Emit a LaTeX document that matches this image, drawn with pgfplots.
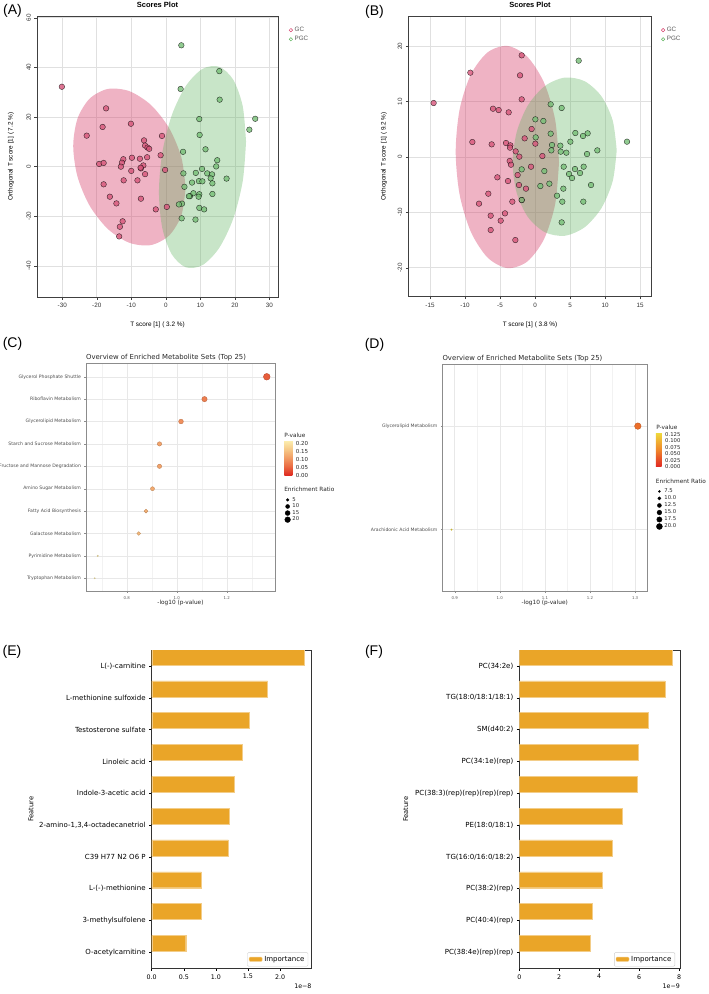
\documentclass[border=0pt]{standalone}
\usepackage{fontspec}
\setmainfont{Liberation Sans}
\newfontfamily\dejavu{DejaVu Sans}
\usepackage{pgfplots}
\pgfplotsset{compat=1.18}
\pgfplotsset{/pgf/number format/assume math mode=true}
\newcommand{\fs}[1]{\fontsize{#1}{#1}\selectfont}
\definecolor{gcred}{RGB}{214,64,108}
\definecolor{gcpt}{RGB}{215,85,122}
\definecolor{pgcgreen}{RGB}{96,180,96}
\definecolor{pgcpt}{RGB}{118,190,118}
\definecolor{barc}{RGB}{234,165,40}
\pgfplotsset{
  every axis title shift=0pt,
  rplot/.style={scale only axis, anchor=north west,
    xtick pos=bottom, ytick pos=left, tick align=outside, major tick length=2.5pt,
    every tick/.style={black!75, line width=0.4pt},
    axis line style={black!75, line width=0.6pt},
    grid=major, major grid style={black!12, line width=0.5pt},
    ticklabel style={font=\fs{6.3}, text=black!80},
    yticklabel style={rotate=90, anchor=south},
    title style={font=\fs{7.5}\bfseries, at={(0.5,1)}, anchor=base, yshift=8.7pt, inner sep=0pt},
    xlabel style={font=\fs{6.4}, anchor=center},
    ylabel style={font=\fs{6.4}, anchor=center},
    legend style={draw=none, fill=none, font=\fs{6.3}, text=black!65, row sep=-0.8pt, inner sep=1pt, anchor=north west},
    legend cell align=left,
    legend image code/.code={\draw[mark repeat=2,mark phase=2,#1] plot coordinates {(0pt,0pt)(2pt,0pt)(4pt,0pt)};},
    clip mode=individual},
  gcpts/.style={only marks, mark=*, mark size=2.8pt, forget plot, mark options={fill=gcpt, fill opacity=0.8, draw=black, draw opacity=0.75, line width=0.4pt}},
  pgcpts/.style={only marks, mark=*, mark size=2.8pt, forget plot, mark options={fill=pgcpt, fill opacity=0.8, draw=black, draw opacity=0.75, line width=0.4pt}},
  gcell/.style={draw=none, fill=gcred, fill opacity=0.4, smooth, forget plot, mark=none},
  pgcell/.style={draw=none, fill=pgcgreen, fill opacity=0.35, smooth, forget plot, mark=none},
  ggplot/.style={scale only axis, anchor=north west,
    xmajorgrids, ymajorgrids, xminorgrids,
    major grid style={black!9, line width=0.4pt}, minor grid style={black!5, line width=0.3pt},
    axis line style={black!45, line width=0.6pt},
    xtick pos=bottom, ytick pos=left, tick align=outside, major tick length=1.5pt, minor tick length=0pt,
    every tick/.style={black!45, line width=0.3pt},
    xticklabel style={font=\dejavu\fs{3.9}, text=black!65, /pgf/number format/fixed, /pgf/number format/fixed zerofill, /pgf/number format/precision=1},
    yticklabel style={font=\dejavu\fs{4.6}, text=black!70},
    title style={font=\dejavu\fs{6.9}, text=black!85, at={(0,1)}, anchor=base west, yshift=3.5pt, inner sep=0pt},
    xlabel style={font=\dejavu\fs{5.8}, text=black!85, anchor=center},
    legend style={draw=none, fill=none, font=\dejavu\fs{5.3}, text=black!85, row sep=-2pt, inner sep=0.5pt, anchor=north west},
    legend cell align=left,
    legend image code/.code={\draw[mark repeat=2,mark phase=2,#1] plot coordinates {(0pt,0pt)(3pt,0pt)(6pt,0pt)};},
    clip mode=individual},
  mplbar/.style={scale only axis, anchor=north west, xbar, bar width=0.5, ymin=-0.5, ymax=9.5, xmin=0,
    ytick={0,...,9},
    xtick pos=bottom, ytick pos=left, tick align=outside, major tick length=2.5pt,
    every tick/.style={black, line width=0.5pt},
    axis line style={black!80, line width=0.6pt},
    xticklabel style={font=\dejavu\fs{6.3}},
    yticklabel style={font=\dejavu\fs{7}},
    ylabel style={font=\dejavu\fs{6.7}, anchor=center},
    legend style={anchor=south east, draw=black!20, fill=white, font=\dejavu\fs{7}, rounded corners=1pt, inner sep=1.5pt},
    clip mode=individual}
}
\begin{document}
\begin{tikzpicture}
\useasboundingbox (0,0) rectangle (709pt,-994pt);
\node[font=\fs{14}] at (12.5pt,-10.5pt) {(A)};
\node[font=\fs{14}] at (374.5pt,-11.5pt) {(B)};
\node[font=\fs{14}] at (12.5pt,-344pt) {(C)};
\node[font=\fs{14}] at (374.5pt,-345pt) {(D)};
\node[font=\fs{14}] at (12pt,-652pt) {(E)};
\node[font=\fs{14}] at (374pt,-651.5pt) {(F)};

% ---------------- (A) ----------------
\begin{axis}[rplot, at={(37pt,-16pt)}, width=241pt, height=281pt,
  xmin=-37.3, xmax=32.5, ymin=-52.5, ymax=60.7,
  xtick={-30,-20,-10,0,10,20,30}, ytick={-40,-20,0,20,40,60},
  title={Scores Plot},
  xlabel={T score [1] ( 3.2 \%)}, xlabel style={at={(0.5,-0.0996)}},
  ylabel={Orthogonal T score [1] ( 7.2 \%)}, ylabel style={at={(-0.108,0.5)}},
  legend style={at={(1.0415,0.9715)}}]
\addplot[gcell] coordinates {(5.75,-8.57) (4.51,-19.62) (0.98,-27.69) (-4.30,-31.58) (-10.53,-30.67) (-16.76,-25.12) (-22.04,-15.75) (-25.57,-4.02) (-26.81,8.31) (-25.57,19.36) (-22.04,27.43) (-16.76,31.32) (-10.53,30.41) (-4.30,24.86) (0.98,15.49) (4.51,3.76) (5.75,-8.57)};
\addplot[pgcell] coordinates {(23.24,10.03) (22.28,-5.86) (19.55,-20.89) (15.46,-32.75) (10.63,-39.65) (5.80,-40.53) (1.71,-35.25) (-1.02,-24.64) (-1.98,-10.29) (-1.02,5.60) (1.71,20.63) (5.80,32.49) (10.63,39.39) (15.46,40.27) (19.55,34.99) (22.28,24.38) (23.24,10.03)};
\addplot[gcpts] coordinates {(-30.1,32.2) (-17.3,23.5) (-22.9,12.5) (-18.3,16.0) (-10.1,17.3) (-1.1,12.4) (-6.3,10.6) (-6.0,8.5) (-5.3,7.7) (-4.8,7.2) (-19.3,1.1) (-18.0,1.5) (-12.3,3.0) (-12.7,1.6) (-13.0,0.0) (-9.8,3.6) (-7.5,3.2) (-5.4,3.8) (-1.5,4.6) (-6.5,0.5) (-7.2,-0.7) (-7.3,-0.4) (-10.0,-1.7) (-6.0,-3.0) (-0.2,-1.3) (-12.2,-5.5) (-8.2,-5.5) (-18.0,-7.1) (-16.2,-12.1) (-14.3,-14.8) (-7.2,-12.9) (-2.9,-17.2) (0.3,-16.2) (-12.5,-22.0) (-13.3,-24.2) (-13.5,-28.1)};
\addplot[pgcpts] coordinates {(4.5,48.9) (15.5,38.5) (4.3,31.3) (15.6,27.0) (25.9,19.3) (24.2,14.9) (9.7,19.2) (9.8,12.8) (11.5,7.0) (5.0,6.0) (14.9,2.6) (14.6,0.1) (10.5,-0.9) (5.1,-2.7) (8.7,-2.5) (12.0,-2.7) (13.4,-3.1) (13.0,-4.7) (17.6,-4.8) (9.6,-5.8) (10.6,-5.9) (13.5,-6.7) (7.6,-6.4) (5.4,-8.1) (8.0,-10.7) (9.7,-11.1) (13.5,-11.0) (7.0,-11.9) (6.7,-11.9) (9.5,-12.1) (4.7,-14.9) (3.8,-15.2) (9.7,-16.6) (11.1,-17.2) (4.6,-20.8) (8.6,-21.3)};
\addlegendimage{only marks, mark=o, mark size=1.7pt, gcred, line width=0.5pt}
\addlegendentry{GC}
\addlegendimage{only marks, mark=o, mark size=1.7pt, pgcgreen, line width=0.5pt}
\addlegendentry{PGC}
\end{axis}

% ---------------- (B) ----------------
\begin{axis}[rplot, at={(408.3pt,-16pt)}, width=243.4pt, height=280.7pt,
  xmin=-18.1, xmax=16.67, ymin=-25.24, ymax=25.48,
  xtick={-15,-10,-5,0,5,10,15}, ytick={-20,-10,0,10,20},
  title={Scores Plot},
  xlabel={T score [1] ( 3.8 \%)}, xlabel style={at={(0.5,-0.101)}},
  ylabel={Orthogonal T score [1] ( 9.2 \%)}, ylabel style={at={(-0.0998,0.5)}},
  legend style={at={(1.035,0.9715)}}]
\addplot[gcell] coordinates {(3.43,-0.97) (2.87,-8.58) (1.27,-14.88) (-1.13,-18.91) (-3.95,-20.07) (-6.77,-18.17) (-9.17,-13.50) (-10.77,-6.78) (-11.33,0.97) (-10.77,8.58) (-9.17,14.88) (-6.77,18.91) (-3.95,20.07) (-1.13,18.17) (1.27,13.50) (2.87,6.78) (3.43,-0.97)};
\addplot[pgcell] coordinates {(11.67,1.21) (11.10,-4.35) (9.49,-9.23) (7.08,-12.70) (4.24,-14.23) (1.40,-13.58) (-1.01,-10.85) (-2.62,-6.47) (-3.19,-1.09) (-2.62,4.47) (-1.01,9.35) (1.40,12.82) (4.24,14.35) (7.08,13.70) (9.49,10.97) (11.10,6.59) (11.67,1.21)};
\addplot[gcpts] coordinates {(-14.48,9.76) (-9.24,15.24) (-1.90,18.37) (-2.14,14.76) (-1.90,10.42) (-6.00,8.73) (-5.19,8.49) (-3.76,8.07) (-8.95,2.71) (-6.19,2.29) (-4.14,2.53) (-3.52,2.11) (-3.57,1.69) (-2.76,1.02) (-2.24,0.06) (-0.48,5.06) (0.05,2.41) (1.05,0.18) (-3.62,-0.72) (-3.43,-1.39) (-0.57,-1.75) (-2.48,-3.25) (-1.48,3.37) (-5.38,-3.67) (-3.86,-4.34) (-2.29,-5.06) (-1.29,-5.72) (-6.67,-6.63) (-8.00,-8.43) (-3.24,-8.07) (-1.90,-7.77) (-4.29,-10.18) (-6.33,-10.60) (-4.90,-11.50) (-6.33,-13.19) (-2.81,-15.00)};
\addplot[pgcpts] coordinates {(6.24,17.41) (2.24,9.52) (3.81,8.86) (0.05,6.81) (1.19,6.51) (0.10,3.55) (2.24,4.22) (5.76,4.34) (6.86,3.80) (7.52,4.28) (13.14,2.77) (5.05,2.77) (2.43,2.17) (3.62,2.05) (2.33,1.20) (3.67,0.96) (4.48,0.78) (7.43,0.54) (8.90,1.20) (4.10,-1.75) (6.95,-1.75) (5.71,-2.17) (4.86,-3.07) (6.43,-2.89) (5.29,-3.80) (-1.90,-2.23) (1.33,-2.53) (0.76,-5.24) (2.05,-4.82) (4.05,-5.72) (8.00,-5.06) (3.14,-6.99) (3.90,-8.07) (6.90,-8.07) (3.81,-11.81) (-1.90,-7.77)};
\addlegendimage{only marks, mark=o, mark size=1.7pt, gcred, line width=0.5pt}
\addlegendentry{GC}
\addlegendimage{only marks, mark=o, mark size=1.7pt, pgcgreen, line width=0.5pt}
\addlegendentry{PGC}
\end{axis}

% ---------------- (C) ----------------
\begin{axis}[ggplot, at={(86pt,-363.3pt)}, width=189pt, height=228.4pt,
  xmin=0.637, xmax=1.393, ymin=0.4, ymax=10.6,
  xtick={0.8,1.0,1.2}, minor xtick={0.7,0.9,1.1,1.3},
  ytick={1,...,10},
  yticklabels={Tryptophan Metabolism, Pyrimidine Metabolism, Galactose Metabolism, Fatty Acid Biosynthesis, Amino Sugar Metabolism, Fructose and Mannose Degradation, Starch and Sucrose Metabolism, Glycerolipid Metabolism, Riboflavin Metabolism, Glycerol Phosphate Shuttle},
  title={Overview of Enriched Metabolite Sets (Top 25)},
  xlabel={-log10 (p-value)}, xlabel style={at={(0.5,-0.048)}},
  colormap={cmC}{rgb255=(222,40,32) rgb255=(234,105,65) rgb255=(241,155,100) rgb255=(246,200,135) rgb255=(252,238,175)},
  point meta min=0, point meta max=0.2147,
  colorbar,
  colorbar style={at={(1.049,0.661)}, anchor=north west, scale only axis, width=8pt, height=34.6pt,
    ytick={0,0.05,0.1,0.15,0.2}, axis line style={draw=none}, major tick length=0pt,
    yticklabel style={font=\dejavu\fs{5.5}, text=black!85, /pgf/number format/fixed, /pgf/number format/fixed zerofill, /pgf/number format/precision=2}},
  legend style={at={(1.048,0.4256)}, row sep=-2.8pt}]
\addplot[scatter, only marks, mark=*, forget plot,
  point meta=\thisrow{p},
  visualization depends on={\thisrow{r}\as\rr},
  scatter/@pre marker code/.append style={/tikz/mark size={max(0.6,0.67*sqrt(\rr)-0.15)}}]
  table[x=x, y=y, row sep=\\]{
  x y p r\\
  1.360 10 0.044 27\\
  1.111 9 0.077 17.5\\
  1.017 8 0.096 14\\
  0.931 7 0.117 12\\
  0.931 6 0.117 12\\
  0.903 5 0.125 10.3\\
  0.877 4 0.133 9.4\\
  0.848 3 0.142 9\\
  0.684 2 0.207 1.5\\
  0.672 1 0.213 1.3\\
  };
\addlegendimage{only marks, mark=*, black, mark size=1.35pt}\addlegendentry{5}
\addlegendimage{only marks, mark=*, black, mark size=2.0pt}\addlegendentry{10}
\addlegendimage{only marks, mark=*, black, mark size=2.45pt}\addlegendentry{15}
\addlegendimage{only marks, mark=*, black, mark size=2.85pt}\addlegendentry{20}
\node[anchor=west, font=\dejavu\fs{5.8}, text=black!85, inner sep=0pt] at (rel axis cs:1.048,0.686) {P-value};
\node[anchor=west, font=\dejavu\fs{5.8}, text=black!85, inner sep=0pt] at (rel axis cs:1.048,0.450) {Enrichment Ratio};
\end{axis}

% ---------------- (D) ----------------
\begin{axis}[ggplot, at={(442.3pt,-364pt)}, width=205pt, height=227.7pt,
  xmin=0.8726, xmax=1.327, ymin=0.4, ymax=2.6,
  xtick={0.9,1.0,1.1,1.2,1.3}, minor xtick={0.95,1.05,1.15,1.25},
  ytick={1,2},
  yticklabels={Arachidonic Acid Metabolism, Glycerolipid Metabolism},
  title={Overview of Enriched Metabolite Sets (Top 25)},
  xlabel={-log10 (p-value)}, xlabel style={at={(0.5,-0.048)}},
  colormap={cmD}{rgb255=(224,40,35) rgb255=(232,85,40) rgb255=(240,135,42) rgb255=(240,175,50) rgb255=(238,218,60)},
  point meta min=0, point meta max=0.13,
  colorbar,
  colorbar style={at={(1.0424,0.698)}, anchor=north west, scale only axis, width=5.7pt, height=34pt,
    ytick={0,0.025,0.05,0.075,0.1,0.125}, axis line style={draw=none}, major tick length=0pt,
    yticklabel style={font=\dejavu\fs{5.3}, text=black!85, /pgf/number format/fixed, /pgf/number format/fixed zerofill, /pgf/number format/precision=3}},
  legend style={at={(1.041,0.464)}, row sep=-2.4pt}]
\addplot[scatter, only marks, mark=*, forget plot,
  point meta=\thisrow{p},
  visualization depends on={\thisrow{r}\as\rr},
  scatter/@pre marker code/.append style={/tikz/mark size={max(0.6,1.156*sqrt(\rr)-2.17)}}]
  table[x=x, y=y, row sep=\\]{
  x y p r\\
  1.306 2 0.049 22\\
  0.893 1 0.128 6.2\\
  };
\addlegendimage{only marks, mark=*, black, mark size=1.0pt}\addlegendentry{7.5}
\addlegendimage{only marks, mark=*, black, mark size=1.6pt}\addlegendentry{10.0}
\addlegendimage{only marks, mark=*, black, mark size=2.0pt}\addlegendentry{12.5}
\addlegendimage{only marks, mark=*, black, mark size=2.35pt}\addlegendentry{15.0}
\addlegendimage{only marks, mark=*, black, mark size=2.65pt}\addlegendentry{17.5}
\addlegendimage{only marks, mark=*, black, mark size=3.0pt}\addlegendentry{20.0}
\node[anchor=west, font=\dejavu\fs{5.8}, text=black!85, inner sep=0pt] at (rel axis cs:1.043,0.723) {P-value};
\node[anchor=west, font=\dejavu\fs{5.8}, text=black!85, inner sep=0pt] at (rel axis cs:1.041,0.486) {Enrichment Ratio};
\end{axis}

% ---------------- (E) ----------------
\begin{axis}[mplbar, at={(151.7pt,-650pt)}, width=160pt, height=318.3pt,
  xmax=2.494, xtick={0,0.5,1,1.5,2},
  xticklabel style={/pgf/number format/fixed, /pgf/number format/fixed zerofill, /pgf/number format/precision=1},
  yticklabels={O-acetylcarnitine, 3-methylsulfolene, L-(-)-methionine, C39 H77 N2 O6 P, {2-amino-1,3,4-octadecanetriol}, Indole-3-acetic acid, Linoleic acid, Testosterone sulfate, L-methionine sulfoxide, L(-)-carnitine},
  ylabel={Feature}, ylabel style={at={(-0.754,0.5)}},
  legend style={at={(0.978,0.006)}}]
\addplot[xbar, fill=barc, draw=barc!55!white, line width=0.4pt, forget plot] coordinates {(0.530,0) (0.774,1) (0.774,2) (1.195,3) (1.205,4) (1.283,5) (1.408,6) (1.527,7) (1.808,8) (2.374,9)};
\addlegendimage{legend image code/.code={\draw[fill=barc, draw=barc!55!white] (0pt,-2pt) rectangle (13pt,2.3pt);}}
\addlegendentry{Importance}
\node[anchor=north east, font=\dejavu\fs{6.3}, inner sep=0pt] at (rel axis cs:1,0) [yshift=-15pt] {1e−8};
\end{axis}

% ---------------- (F) ----------------
\begin{axis}[mplbar, at={(519.3pt,-650pt)}, width=160.7pt, height=318.3pt,
  xmax=8.05, xtick={0,2,4,6,8},
  yticklabels={PC(38:4e)(rep)(rep), PC(40:4)(rep), PC(38:2)(rep), TG(16:0/16:0/18:2), PE(18:0/18:1), PC(38:3)(rep)(rep)(rep)(rep), PC(34:1e)(rep), SM(d40:2), TG(18:0/18:1/18:1), PC(34:2e)},
  ylabel={Feature}, ylabel style={at={(-0.707,0.5)}},
  legend style={at={(0.969,0.006)}}]
\addplot[xbar, fill=barc, draw=barc!55!white, line width=0.4pt, forget plot] coordinates {(3.57,0) (3.64,1) (4.14,2) (4.64,3) (5.14,4) (5.91,5) (5.98,6) (6.46,7) (7.30,8) (7.66,9)};
\addlegendimage{legend image code/.code={\draw[fill=barc, draw=barc!55!white] (0pt,-2pt) rectangle (13pt,2.3pt);}}
\addlegendentry{Importance}
\node[anchor=north east, font=\dejavu\fs{6.3}, inner sep=0pt] at (rel axis cs:1,0) [yshift=-15pt] {1e−9};
\end{axis}
\end{tikzpicture}
\end{document}
